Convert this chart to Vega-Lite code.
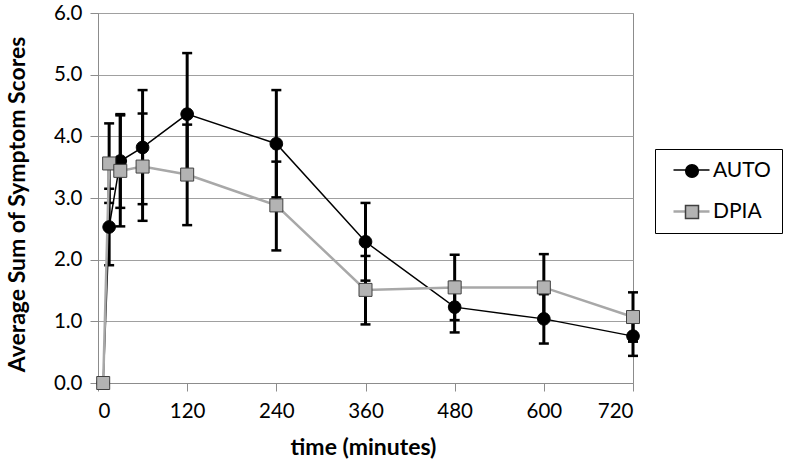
{
  "$schema": "https://vega.github.io/schema/vega-lite/v6.json",
  "width": 535,
  "height": 370,
  "autosize": "none",
  "padding": {"left": 98, "top": 13, "right": 159, "bottom": 78},
  "background": "white",
  "config": {
    "view": {"stroke": "#8c8c8c", "strokeWidth": 1},
    "font": "Lato",
    "axis": {
      "labelFont": "Lato",
      "labelFontSize": 20.5,
      "labelColor": "black",
      "titleFont": "Lato",
      "titleFontSize": 23,
      "titleFontWeight": "bold",
      "titleColor": "black",
      "domainColor": "#8c8c8c",
      "tickColor": "#8c8c8c",
      "tickSize": 8,
      "gridColor": "#a0a0a0",
      "gridWidth": 1
    }
  },
  "data": {
    "values": [
      {"series": "AUTO", "time": 7, "mean": 0.0, "lo": 0.0, "hi": 0.0},
      {"series": "AUTO", "time": 15, "mean": 2.53, "lo": 1.91, "hi": 3.15},
      {"series": "AUTO", "time": 30, "mean": 3.60, "lo": 2.84, "hi": 4.36},
      {"series": "AUTO", "time": 60, "mean": 3.82, "lo": 2.90, "hi": 4.75},
      {"series": "AUTO", "time": 120, "mean": 4.36, "lo": 3.36, "hi": 5.35},
      {"series": "AUTO", "time": 240, "mean": 3.88, "lo": 3.01, "hi": 4.75},
      {"series": "AUTO", "time": 360, "mean": 2.29, "lo": 1.66, "hi": 2.92},
      {"series": "AUTO", "time": 480, "mean": 1.23, "lo": 0.82, "hi": 1.64},
      {"series": "AUTO", "time": 600, "mean": 1.04, "lo": 0.64, "hi": 1.44},
      {"series": "AUTO", "time": 720, "mean": 0.76, "lo": 0.44, "hi": 1.08},
      {"series": "DPIA", "time": 7, "mean": 0.0, "lo": 0.0, "hi": 0.0},
      {"series": "DPIA", "time": 15, "mean": 3.56, "lo": 2.92, "hi": 4.21},
      {"series": "DPIA", "time": 30, "mean": 3.44, "lo": 2.54, "hi": 4.34},
      {"series": "DPIA", "time": 60, "mean": 3.51, "lo": 2.63, "hi": 4.37},
      {"series": "DPIA", "time": 120, "mean": 3.38, "lo": 2.56, "hi": 4.19},
      {"series": "DPIA", "time": 240, "mean": 2.88, "lo": 2.15, "hi": 3.59},
      {"series": "DPIA", "time": 360, "mean": 1.51, "lo": 0.95, "hi": 2.06},
      {"series": "DPIA", "time": 480, "mean": 1.55, "lo": 1.02, "hi": 2.08},
      {"series": "DPIA", "time": 600, "mean": 1.55, "lo": 1.01, "hi": 2.09},
      {"series": "DPIA", "time": 720, "mean": 1.07, "lo": 0.67, "hi": 1.47}
    ]
  },
  "encoding": {
    "x": {
      "field": "time",
      "type": "quantitative",
      "scale": {"domain": [0, 720], "nice": false, "zero": false},
      "axis": {
        "values": [0, 120, 240, 360, 480, 600, 720],
        "grid": false,
        "labelPadding": 10,
        "title": "time (minutes)",
        "titlePadding": 15,
        "titleX": 265
      }
    }
  },
  "layer": [
    {
      "mark": {"type": "rule", "color": "black", "strokeWidth": 3},
      "encoding": {
        "y": {
          "field": "lo",
          "type": "quantitative",
          "scale": {"domain": [0, 6], "nice": false},
          "axis": {
            "values": [0, 1, 2, 3, 4, 5, 6],
            "format": ".1f",
            "grid": true,
            "labelPadding": 8,
            "title": "Average Sum of Symptom Scores",
            "titlePadding": 24,
            "titleY": 191
          }
        },
        "y2": {"field": "hi"}
      }
    },
    {
      "mark": {"type": "tick", "orient": "horizontal", "color": "black", "size": 10, "thickness": 2.5, "opacity": 1},
      "encoding": {"y": {"field": "lo", "type": "quantitative"}}
    },
    {
      "mark": {"type": "tick", "orient": "horizontal", "color": "black", "size": 10, "thickness": 2.5, "opacity": 1},
      "encoding": {"y": {"field": "hi", "type": "quantitative"}}
    },
    {
      "mark": {"type": "line"},
      "encoding": {
        "y": {"field": "mean", "type": "quantitative"},
        "color": {
          "field": "series",
          "type": "nominal",
          "scale": {"domain": ["AUTO", "DPIA"], "range": ["black", "#a8a8a8"]},
          "legend": {
            "orient": "none",
            "legendX": 557,
            "legendY": 136,
            "title": null,
            "symbolType": "M-1.8,0H1.8",
            "symbolSize": 400,
            "symbolStrokeWidth": 2,
            "symbolOffset": 15,
            "padding": 10,
            "rowPadding": 20,
            "labelFontSize": 21,
            "labelFont": "Lato",
            "labelOffset": 11,
            "labelExpr": "''"
          }
        },
        "strokeWidth": {
          "field": "series",
          "type": "nominal",
          "scale": {"domain": ["AUTO", "DPIA"], "range": [1.5, 2.5]},
          "legend": null
        }
      }
    },
    {
      "mark": {"type": "point", "filled": true, "size": 400, "strokeWidth": 1, "opacity": 1},
      "encoding": {
        "y": {"field": "mean", "type": "quantitative"},
        "shape": {
          "field": "series",
          "type": "nominal",
          "scale": {"range": ["M-0.63,0A0.63,0.63 0 1 1 0.63,0A0.63,0.63 0 1 1 -0.63,0Z", "M-0.65,-0.65H0.65V0.65H-0.65Z"]},
          "legend": {
            "orient": "none",
            "legendX": 557,
            "legendY": 136,
            "title": null,
            "symbolSize": 400,
            "symbolOffset": 15,
            "padding": 11,
            "rowPadding": 20,
            "labelFontSize": 21,
            "labelFont": "Lato",
            "labelColor": "black",
            "labelOffset": 10,
            "strokeColor": "black"
          }
        },
        "fill": {
          "field": "series",
          "type": "nominal",
          "scale": {"range": ["black", "#b3b3b3"]},
          "legend": {
            "orient": "none",
            "legendX": 557,
            "legendY": 136,
            "title": null
          }
        },
        "stroke": {
          "field": "series",
          "type": "nominal",
          "scale": {"range": ["black", "#404040"]},
          "legend": {
            "orient": "none",
            "legendX": 557,
            "legendY": 136,
            "title": null
          }
        }
      }
    }
  ]
}
